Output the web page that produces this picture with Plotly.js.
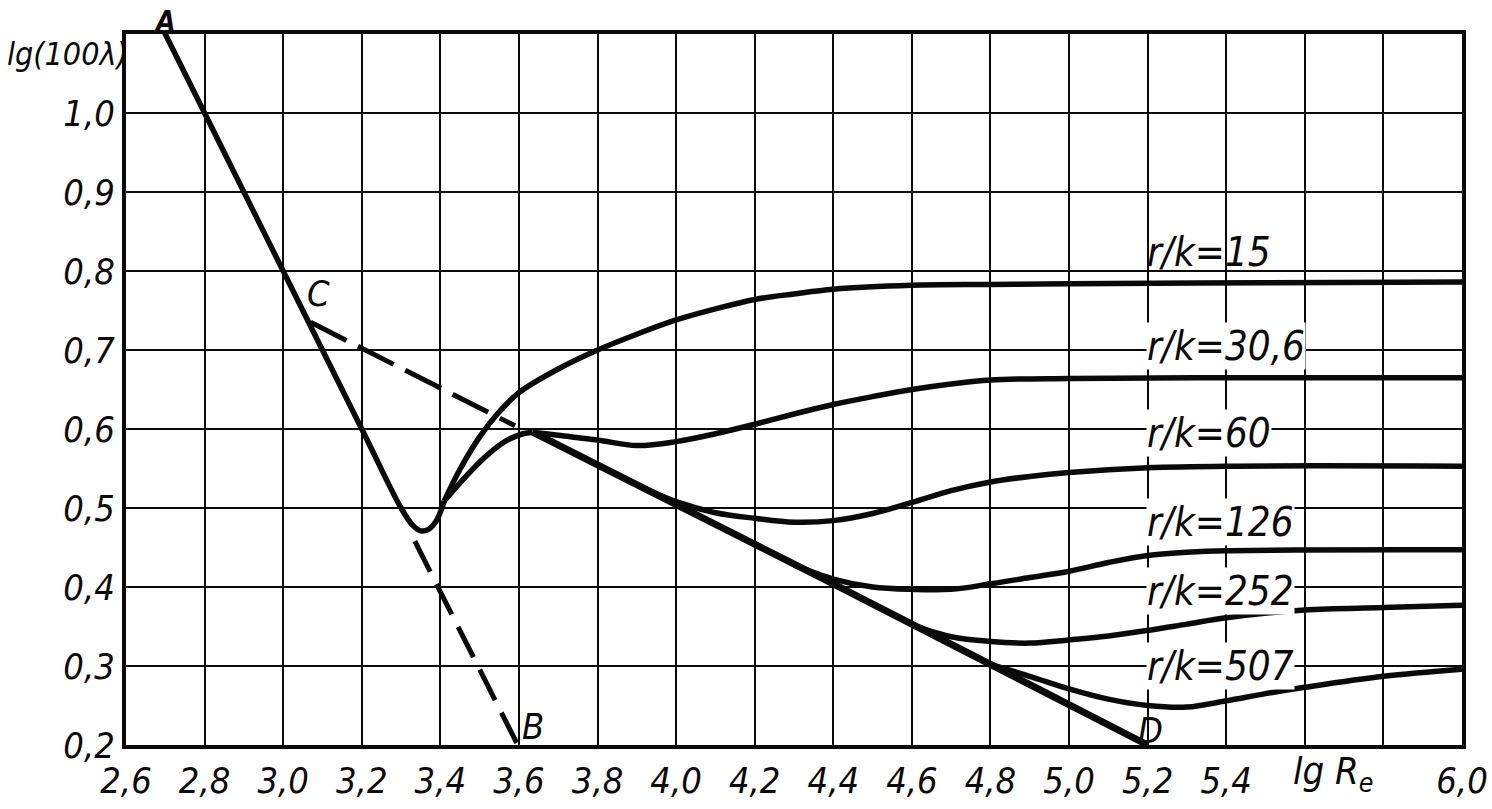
<!DOCTYPE html>
<html>
<head>
<meta charset="utf-8">
<script src="https://cdn.plot.ly/plotly-3.0.1.min.js"></script>
<style>
  html, body { margin: 0; padding: 0; background: #fff; }
  #chart { width: 1492px; height: 809px; }
</style>
</head>
<body>
<div id="chart"></div>
<script>
// ---- data (lg Re vs lg(100 lambda)) ----
const laminarX = [2.69, 2.8, 3.0, 3.2, 3.30, 3.33, 3.35, 3.37, 3.39, 3.41];
const laminarY = [1.11, 1.0, 0.8, 0.6, 0.50, 0.478, 0.471, 0.473, 0.484, 0.509];

const laminarDashX = [3.335, 3.597];
const laminarDashY = [0.458, 0.2];

const transitionX = [3.41, 3.467, 3.517, 3.567, 3.61, 3.635];
const transitionY = [0.509, 0.541, 0.566, 0.585, 0.594, 0.596];

const blasiusDashX = [3.07, 3.59];
const blasiusDashY = [0.735, 0.604];

const blasiusX = [3.635, 4.4, 5.2];
const blasiusY = [0.596, 0.404, 0.2];

const rk15X = [3.41, 3.45, 3.50, 3.545, 3.60, 3.70, 3.80, 3.90, 4.0, 4.1, 4.2, 4.3, 4.4, 4.6, 4.8, 5.0, 5.5, 6.0];
const rk15Y = [0.509, 0.549, 0.59, 0.619, 0.646, 0.676, 0.70, 0.72, 0.738, 0.752, 0.764, 0.771, 0.777, 0.782, 0.783, 0.784, 0.785, 0.786];

const rk306X = [3.635, 3.7, 3.8, 3.9, 4.0, 4.1, 4.2, 4.3, 4.4, 4.5, 4.6, 4.7, 4.8, 5.0, 5.5, 6.0];
const rk306Y = [0.596, 0.592, 0.586, 0.579, 0.584, 0.594, 0.606, 0.619, 0.631, 0.641, 0.65, 0.657, 0.662, 0.664, 0.665, 0.665];

const rk60X = [3.9, 4.0, 4.1, 4.2, 4.3, 4.4, 4.5, 4.6, 4.7, 4.8, 4.9, 5.0, 5.2, 5.4, 6.0];
const rk60Y = [0.529, 0.508, 0.494, 0.487, 0.482, 0.484, 0.493, 0.507, 0.522, 0.533, 0.540, 0.545, 0.551, 0.553, 0.553];

const rk126X = [4.3, 4.4, 4.5, 4.6, 4.7, 4.8, 4.9, 5.0, 5.1, 5.2, 5.3, 5.4, 6.0];
const rk126Y = [0.428, 0.410, 0.400, 0.397, 0.397, 0.404, 0.412, 0.420, 0.431, 0.440, 0.444, 0.446, 0.447];

const rk252X = [4.6, 4.7, 4.8, 4.9, 5.0, 5.1, 5.2, 5.3, 5.4, 5.6, 5.8, 6.0];
const rk252Y = [0.352, 0.337, 0.331, 0.329, 0.333, 0.338, 0.345, 0.353, 0.361, 0.371, 0.374, 0.377];

const rk507X = [4.8, 4.9, 5.0, 5.1, 5.2, 5.3, 5.4, 5.5, 5.6, 5.8, 6.0];
const rk507Y = [0.302, 0.287, 0.271, 0.258, 0.250, 0.248, 0.256, 0.265, 0.273, 0.287, 0.296];

const xTickVals = [2.6, 2.8, 3.0, 3.2, 3.4, 3.6, 3.8, 4.0, 4.2, 4.4, 4.6, 4.8, 5.0, 5.2, 5.4, 6.0];
const xTickText = ['2,6', '2,8', '3,0', '3,2', '3,4', '3,6', '3,8', '4,0', '4,2', '4,4', '4,6', '4,8', '5,0', '5,2', '5,4', '6,0'];
const xExtraGrid = [5.6, 5.8];
const yTickVals = [0.2, 0.3, 0.4, 0.5, 0.6, 0.7, 0.8, 0.9, 1.0];
const yTickText = ['0,2', '0,3', '0,4', '0,5', '0,6', '0,7', '0,8', '0,9', '1,0'];

const curveLabels = ['r/k=15', 'r/k=30,6', 'r/k=60', 'r/k=126', 'r/k=252', 'r/k=507'];
const curveLabelY = [0.824, 0.705, 0.595, 0.482, 0.395, 0.300];
const pointLabels = ['C', 'B', 'D'];
const pointLabelX = [3.089, 3.636, 5.206];
const pointLabelY = [0.772, 0.224, 0.218];
const topLabel = 'A';
const topLabelX = 2.70;

// ---- drawing ----
const FONT = '"DejaVu Sans Condensed", "DejaVu Sans", sans-serif';
const INK = '#0a0a0a';

function solid(x, y, w, spline) {
  return { x: x, y: y, type: 'scatter', mode: 'lines', hoverinfo: 'skip',
           line: { color: INK, width: w, shape: spline ? 'spline' : 'linear', smoothing: 1 },
           cliponaxis: true, showlegend: false };
}
function dashed(x, y, w, pattern) {
  return { x: x, y: y, type: 'scatter', mode: 'lines', hoverinfo: 'skip',
           line: { color: INK, width: w, dash: pattern },
           showlegend: false };
}

const traces = [
  solid(laminarX, laminarY, 5.5, true),
  dashed(laminarDashX, laminarDashY, 5, '34px,14px'),
  solid(transitionX, transitionY, 5.5, true),
  dashed(blasiusDashX, blasiusDashY, 5, '40px,13px'),
  solid(blasiusX, blasiusY, 7, false),
  solid(rk15X, rk15Y, 5.5, true),
  solid(rk306X, rk306Y, 5.5, true),
  solid(rk60X, rk60Y, 5.5, true),
  solid(rk126X, rk126Y, 5.5, true),
  solid(rk252X, rk252Y, 5.5, true),
  solid(rk507X, rk507Y, 5.5, true)
];

const annotations = [];
curveLabels.forEach(function (t, i) {
  annotations.push({
    x: 5.195, y: curveLabelY[i], xref: 'x', yref: 'y', xanchor: 'left', yanchor: 'middle',
    text: t, showarrow: false,
    font: { family: FONT, size: 40, color: INK, style: 'italic' },
    bgcolor: i === 0 ? 'rgba(0,0,0,0)' : '#ffffff', borderpad: 0
  });
});
pointLabels.forEach(function (t, i) {
  annotations.push({
    x: pointLabelX[i], y: pointLabelY[i], xref: 'x', yref: 'y', xanchor: 'center', yanchor: 'middle',
    text: t, showarrow: false,
    font: { family: FONT, size: 36, color: INK, style: 'italic' }
  });
});
annotations.push({
  x: topLabelX, y: 0.993, xref: 'x', yref: 'paper', xanchor: 'center', yanchor: 'bottom',
  text: topLabel, showarrow: false, borderpad: 0,
  font: { family: FONT, size: 28, color: INK, style: 'italic', weight: 'bold' }
});
annotations.push({
  x: 0.003, y: 0.972, xref: 'paper', yref: 'paper', xanchor: 'right', yanchor: 'middle',
  text: 'lg(100λ)', showarrow: false,
  font: { family: FONT, size: 32, color: INK, style: 'italic' }
});
annotations.push({
  x: 5.672, y: -0.040, xref: 'x', yref: 'paper', xanchor: 'center', yanchor: 'middle',
  text: 'lg R<sub>e</sub>', showarrow: false,
  font: { family: FONT, size: 38, color: INK, style: 'italic' }
});

const layout = {
  width: 1492, height: 809,
  margin: { l: 126, r: 30, t: 34, b: 64, pad: 0 },
  paper_bgcolor: '#ffffff', plot_bgcolor: '#ffffff',
  showlegend: false,
  xaxis: {
    range: [2.6, 6.0], tickmode: 'array', tickvals: xTickVals, ticktext: xTickText,
    showgrid: true, gridcolor: INK, gridwidth: 2, zeroline: false,
    minor: { tickmode: 'array', tickvals: xExtraGrid, showgrid: true, gridcolor: INK, gridwidth: 2, ticks: '' },
    showline: true, linecolor: INK, linewidth: 4, mirror: true,
    ticks: '', ticklabelstandoff: 1,
    tickfont: { family: FONT, size: 36, color: INK, style: 'italic' }
  },
  yaxis: {
    range: [0.2, 1.1], tickmode: 'array', tickvals: yTickVals, ticktext: yTickText,
    showgrid: true, gridcolor: INK, gridwidth: 2, zeroline: false,
    showline: true, linecolor: INK, linewidth: 4, mirror: true,
    ticks: '', ticklabelstandoff: 0,
    tickfont: { family: FONT, size: 36, color: INK, style: 'italic' }
  },
  annotations: annotations
};

Plotly.newPlot('chart', traces, layout, { staticPlot: true, displayModeBar: false });
</script>
</body>
</html>
